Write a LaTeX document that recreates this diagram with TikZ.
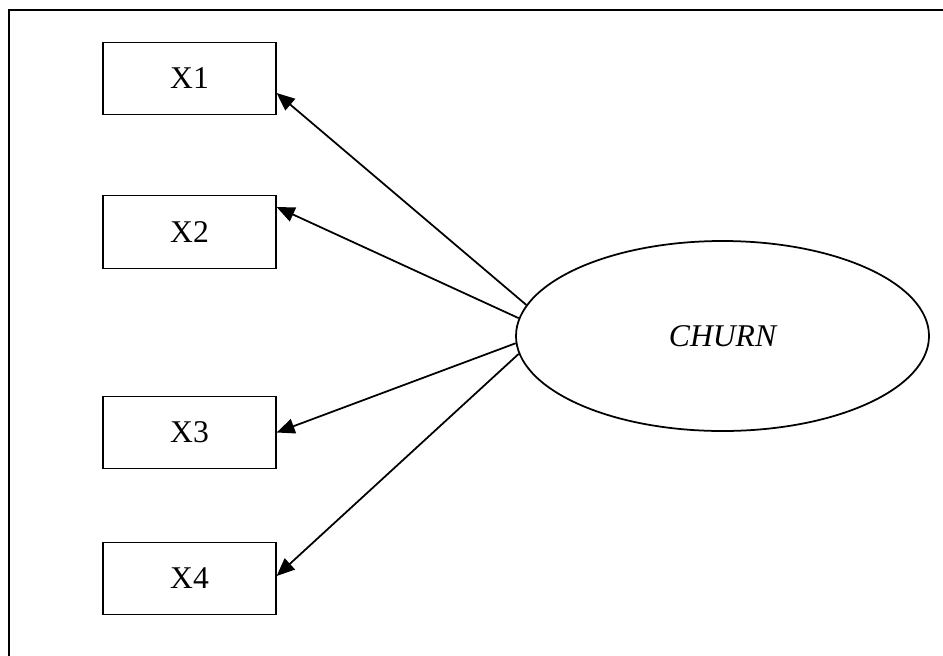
\documentclass[tikz,border=0pt]{standalone}
\usepackage{fontspec}
\setmainfont{Liberation Serif}
\usetikzlibrary{arrows.meta,shapes.geometric}

\begin{document}
\begin{tikzpicture}[>={Triangle[length=0.36cm,width=0.3cm]},font=\fontsize{18}{21}\selectfont,
  item/.style={draw,line width=0.7pt,minimum width=3.46cm,minimum height=1.45cm,inner sep=0pt},
  factor/.style={draw,ellipse,line width=1pt,minimum width=8.26cm,minimum height=3.8cm,inner sep=0pt,font=\fontsize{18}{21}\selectfont\itshape},
  link/.style={->,line width=1pt}]
\useasboundingbox (0,0) rectangle (18.86,-13.1);
\clip (0,0) rectangle (18.86,-13.1);
% outer frame, only its left and top sides fall on the page
\draw[line width=1.1pt] (0.18,-14) -- (0.18,-0.2) -- (19.5,-0.2);
\node[item] (x1) at (3.79,-1.57) {X1};
\node[item] (x2) at (3.79,-4.64) {X2};
\node[item] (x3) at (3.79,-8.65) {X3};
\node[item] (x4) at (3.79,-11.57) {X4};
\node[factor] (churn) at (14.45,-6.72) {CHURN};
\draw[link] (churn.171) -- ([yshift=-0.29cm]x1.east);
\draw[link] (churn.175) -- ([yshift=0.5cm]x2.east);
\draw[link] (churn.182) -- (x3.east);
\draw[link] (churn.185) -- ([yshift=0.05cm]x4.east);
\end{tikzpicture}
\end{document}
